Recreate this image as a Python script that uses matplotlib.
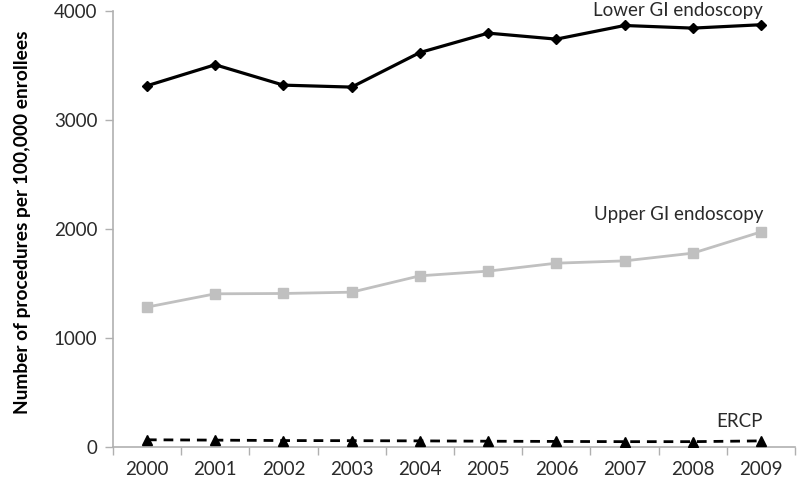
import matplotlib
matplotlib.use("Agg")
import matplotlib.pyplot as plt
import numpy as np

years = ["2000", "2001", "2002", "2003", "2004", "2005", "2006", "2007", "2008", "2009"]
lower_gi = [3312, 3505, 3318, 3300, 3617, 3795, 3740, 3865, 3841, 3872]
upper_gi = [1282, 1404, 1407, 1419, 1569, 1612, 1685, 1706, 1777, 1972]
ercp = [65, 62, 58, 57, 55, 52, 50, 48, 48, 55]
y_ticks = [0, 1000, 2000, 3000, 4000]

plt.rcParams['font.family'] = ['Lato', 'DejaVu Sans']

fig = plt.figure(figsize=(8, 4.9), dpi=100)
ax = fig.add_axes([0.141, 0.088, 0.853, 0.89])

x = np.arange(len(years))
ax.plot(x, lower_gi, color='black', lw=2.3, marker='D', ms=5, zorder=3)
ax.plot(x, upper_gi, color='#c0c0c0', lw=2.0, marker='s', ms=6.5, zorder=3)
ax.plot(x, ercp, color='black', lw=2.0, ls=(0, (3.5, 2.5)), marker='^', ms=6.5, zorder=3)

ax.set_xlim(-0.5, len(years) - 0.5)
ax.set_ylim(0, 4000)
ax.set_yticks(y_ticks)
ax.set_yticklabels([str(v) for v in y_ticks])
ax.set_xticks(x)
ax.set_xticklabels(years)
ax.set_xticks(np.arange(-0.5, len(years), 1.0), minor=True)
ax.tick_params(axis='x', which='major', length=0, pad=10, labelsize=13.5, colors='#2a2a2a')
ax.tick_params(axis='x', which='minor', length=6, width=1, color='#b0b0b0', direction='out')
ax.tick_params(axis='y', length=6, width=1, color='#b0b0b0', pad=5, labelsize=13.5, labelcolor='#2a2a2a')

for s in ['top', 'right']:
    ax.spines[s].set_visible(False)
for s in ['left', 'bottom']:
    ax.spines[s].set_color('#b0b0b0')
    ax.spines[s].set_linewidth(1.2)

ax.set_ylabel("Number of procedures per 100,000 enrollees", fontsize=13.8, fontweight='bold', labelpad=10)
ax.yaxis.set_label_coords(-0.12, 0.515)

ax.text(9.03, 4000, "Lower GI endoscopy", ha='right', va='center', fontsize=13.5, color='#2a2a2a', clip_on=False)
ax.text(9.03, 2130, "Upper GI endoscopy", ha='right', va='center', fontsize=13.5, color='#2a2a2a')
ax.text(9.03, 230, "ERCP", ha='right', va='center', fontsize=13.5, color='#2a2a2a')

fig.savefig("out.png", dpi=100)
